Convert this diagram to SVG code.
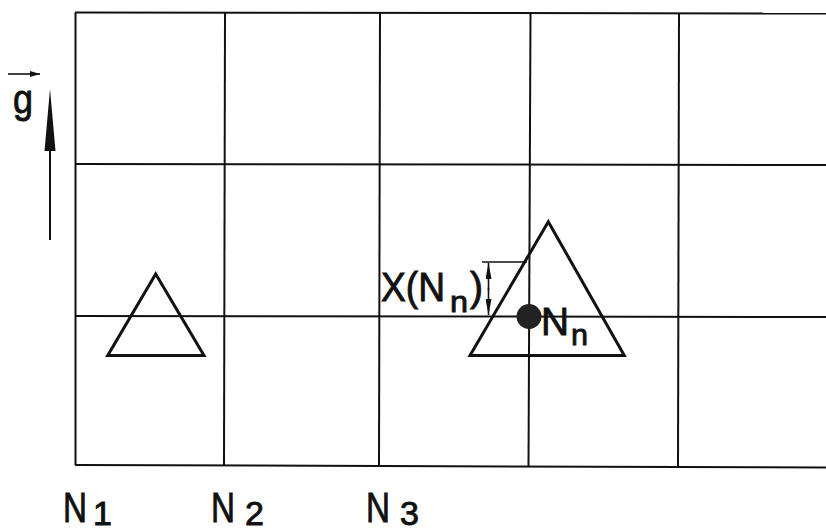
<svg xmlns="http://www.w3.org/2000/svg" width="826" height="531" viewBox="0 0 826 531">
<style>
.grid{stroke:#111;stroke-width:2;fill:none}
.tri{stroke:#111;stroke-width:3;fill:none;stroke-linejoin:miter}
.t{font-family:"Liberation Sans",Arial,sans-serif;fill:#111;stroke:#111;stroke-width:0.9}
.thin{stroke:#111;stroke-width:1.6;fill:none}
</style>
<defs>
<marker id="ah" viewBox="0 0 10 6" refX="10" refY="3" markerWidth="10" markerHeight="6" markerUnits="userSpaceOnUse" orient="auto">
<path d="M0,0 L10,3 L0,6 Z" fill="#111"/>
</marker>
<marker id="dh" viewBox="0 0 16 6" refX="16" refY="3" markerWidth="16" markerHeight="6" markerUnits="userSpaceOnUse" orient="auto">
<path d="M0,0 L16,3 L0,6 Z" fill="#111"/>
</marker>
</defs>
<rect width="826" height="531" fill="#fff"/>
<g id="grid">
<line class="grid" x1="75" y1="12.5" x2="826" y2="13.5"/>
<line class="grid" x1="75" y1="164" x2="826" y2="165"/>
<line class="grid" x1="75" y1="316" x2="826" y2="317"/>
<line class="grid" x1="75" y1="465" x2="826" y2="467.5"/>
<line class="grid" x1="75.5" y1="12.5" x2="75.5" y2="465"/>
<line class="grid" x1="225" y1="12.5" x2="224" y2="465"/>
<line class="grid" x1="380" y1="12.5" x2="379" y2="466"/>
<line class="grid" x1="530.5" y1="13" x2="528.5" y2="466"/>
<line class="grid" x1="679" y1="13" x2="678" y2="467"/>
</g>
<g id="gravity">
<line class="thin" x1="8" y1="74" x2="40" y2="74" marker-end="url(#ah)"/>
<text class="t" x="13" y="113" font-size="41" textLength="20" lengthAdjust="spacingAndGlyphs">g</text>
<line x1="50" y1="240" x2="50" y2="145" stroke="#111" stroke-width="2"/>
<path d="M50,89 L55.5,151 L44.5,151 Z" fill="#111"/>
</g>
<g id="triangle1">
<path class="tri" d="M155.7,274 L204,355.5 L107.7,355.5 Z"/>
</g>
<g id="triangleNn">
<path class="tri" d="M548.3,221.7 L624.3,355.5 L470,355.5 Z"/>
<circle cx="529" cy="316.5" r="12.5" fill="#222"/>
<text class="t" x="541" y="335" font-size="39" textLength="28" lengthAdjust="spacingAndGlyphs">N</text>
<text class="t" x="571" y="345" font-size="30" textLength="17" lengthAdjust="spacingAndGlyphs">n</text>
</g>
<g id="dimension">
<line class="thin" x1="482" y1="262" x2="527" y2="262"/>
<line class="thin" x1="488.5" y1="290" x2="488.5" y2="263" marker-end="url(#dh)"/>
<line class="thin" x1="488.5" y1="288" x2="488.5" y2="315" marker-end="url(#dh)"/>
<text class="t" x="381" y="301" font-size="40" textLength="64" lengthAdjust="spacingAndGlyphs">X(N</text>
<text class="t" x="450" y="311.5" font-size="30" textLength="18" lengthAdjust="spacingAndGlyphs">n</text>
<text class="t" x="470" y="301" font-size="40" textLength="13" lengthAdjust="spacingAndGlyphs">)</text>
</g>
<g id="labels">
<text class="t" x="63" y="522" font-size="43" textLength="24" lengthAdjust="spacingAndGlyphs">N</text>
<text class="t" x="93" y="525" font-size="34">1</text>
<text class="t" x="211" y="522" font-size="43" textLength="24" lengthAdjust="spacingAndGlyphs">N</text>
<text class="t" x="245" y="525" font-size="34">2</text>
<text class="t" x="366" y="522" font-size="43" textLength="24" lengthAdjust="spacingAndGlyphs">N</text>
<text class="t" x="400" y="525" font-size="34">3</text>
</g>
</svg>
